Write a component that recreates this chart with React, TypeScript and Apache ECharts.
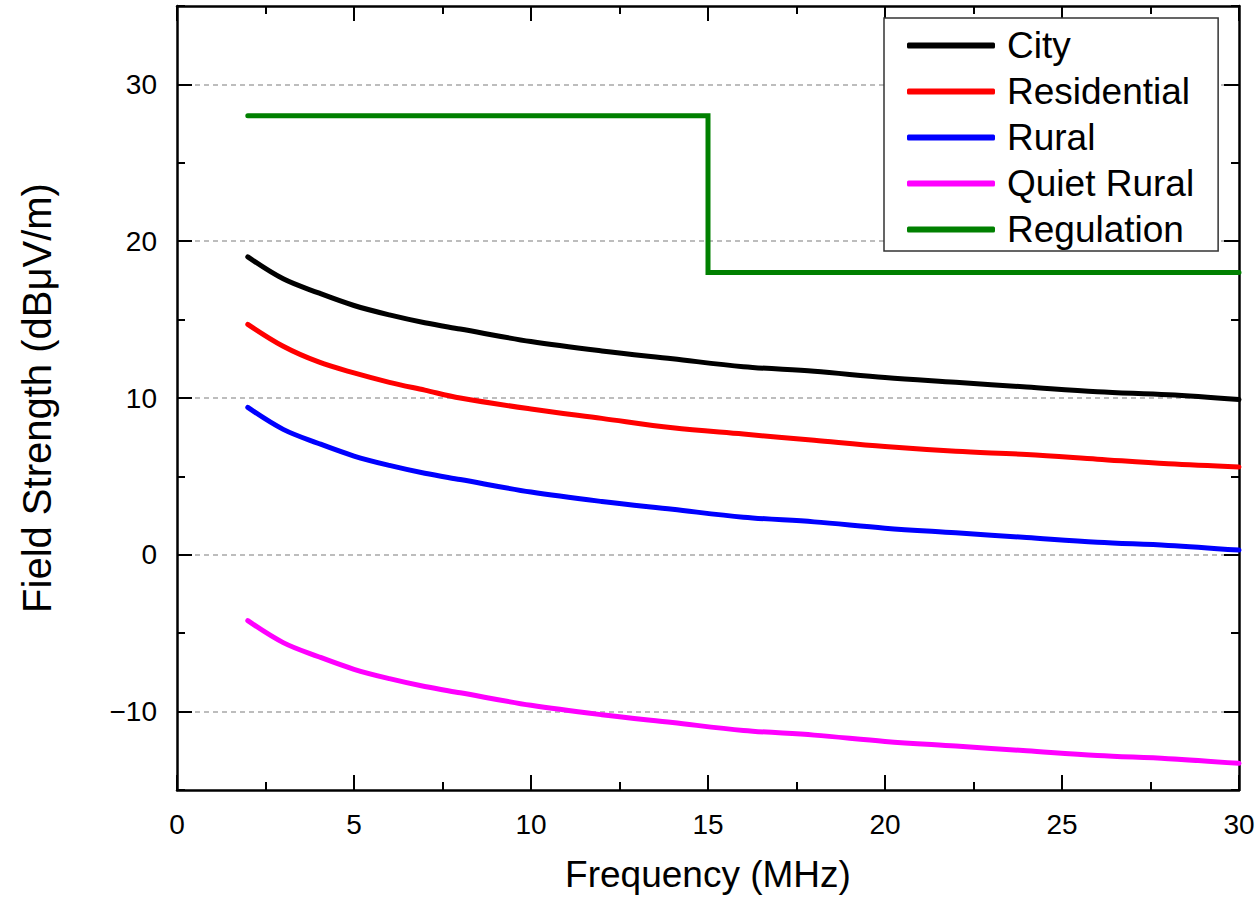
import React, { useEffect, useRef } from "react";
import * as echarts from "echarts";

const freqs = [2, 3, 4, 5, 6, 7, 8, 10, 12, 14, 16, 18, 20, 22, 24, 26, 28, 30];
const city = [19.0, 17.6, 16.7, 15.9, 15.3, 14.8, 14.4, 13.6, 13.0, 12.5, 12.0, 11.7, 11.3, 11.0, 10.7, 10.4, 10.2, 9.9];
const residential = [14.7, 13.3, 12.3, 11.6, 11.0, 10.5, 10.0, 9.3, 8.7, 8.1, 7.7, 7.3, 6.9, 6.6, 6.4, 6.1, 5.8, 5.6];
const rural = [9.4, 8.0, 7.1, 6.3, 5.7, 5.2, 4.8, 4.0, 3.4, 2.9, 2.4, 2.1, 1.7, 1.4, 1.1, 0.8, 0.6, 0.3];
const quietRural = [-4.2, -5.6, -6.5, -7.3, -7.9, -8.4, -8.8, -9.6, -10.2, -10.7, -11.2, -11.5, -11.9, -12.2, -12.5, -12.8, -13.0, -13.3];
const regulationFreq = [2, 15, 15, 30];
const regulationLevel = [28, 28, 18, 18];

const seriesNames = ["City", "Residential", "Rural", "Quiet Rural", "Regulation"];
const seriesColors = ["#000000", "#ff0000", "#0000ff", "#ff00ff", "#008000"];
const majorYTicks = [-10, 0, 10, 20, 30];

const FONT = "'Liberation Sans', Arial, sans-serif";
// index of the hidden helper axes (their range does not cross zero, so the
// visible axes stay on the frame edges)
const HELPER_X = 2;
const HELPER_Y = 4;

export default function App() {
  const ref = useRef<HTMLDivElement>(null);
  useEffect(() => {
    if (!ref.current) return;
    const chart = echarts.init(ref.current, null, { renderer: "svg" });
    const curves = [city, residential, rural, quietRural];
    const lineSeries: any[] = curves.map((vals, i) => ({
      name: seriesNames[i],
      type: "line",
      data: freqs.map((f, j) => [f, vals[j]]),
      smooth: 0.35,
      symbol: "none",
      color: seriesColors[i],
      lineStyle: { width: 5, color: seriesColors[i], cap: "round" },
    }));
    lineSeries.push({
      name: seriesNames[4],
      type: "line",
      data: regulationFreq.map((f, j) => [f, regulationLevel[j]]),
      symbol: "none",
      color: seriesColors[4],
      lineStyle: { width: 5, color: seriesColors[4], cap: "round", join: "miter" },
    });

    const xLine = { show: true, onZeroAxisIndex: HELPER_Y, lineStyle: { color: "#000", width: 2.5 } };
    const yLine = { show: true, onZeroAxisIndex: HELPER_X, lineStyle: { color: "#000", width: 2.5 } };
    const xBase = {
      type: "value",
      min: 0,
      max: 30,
      interval: 5,
      axisLine: xLine,
      axisTick: { show: true, inside: true, length: 15, lineStyle: { color: "#000", width: 2 } },
      minorTick: { show: true, splitNumber: 2, length: 8, lineStyle: { color: "#000", width: 2 } },
      splitLine: { show: false },
    };
    const yMinor = {
      type: "value",
      min: -15,
      max: 35,
      interval: 5,
      axisLine: yLine,
      axisTick: { show: true, inside: true, length: 8, lineStyle: { color: "#000", width: 2 } },
      axisLabel: { show: false },
      splitLine: { show: false },
    };
    const yMajor = {
      type: "value",
      min: -15,
      max: 35,
      interval: 5,
      axisLine: { show: false, onZeroAxisIndex: HELPER_X },
      axisTick: {
        show: true,
        inside: true,
        length: 15,
        customValues: majorYTicks,
        lineStyle: { color: "#000", width: 2 },
      },
      axisLabel: { show: false },
      splitLine: { show: false },
    };

    chart.setOption({
      animation: false,
      backgroundColor: "#fff",
      textStyle: { fontFamily: FONT },
      grid: { left: 177, right: 21, top: 6, bottom: 110, containLabel: false },
      legend: {
        data: seriesNames,
        orient: "vertical",
        left: 884,
        top: 18,
        backgroundColor: "#fff",
        borderColor: "#333",
        borderWidth: 1.5,
        padding: [9, 24, 3, 23],
        itemWidth: 88,
        itemHeight: 6,
        itemGap: 9,
        icon: "roundRect",
        textStyle: { fontSize: 37, color: "#000", fontFamily: FONT, padding: [0, 0, 0, 7] },
        z: 10,
      },
      xAxis: [
        {
          ...xBase,
          position: "bottom",
          name: "Frequency (MHz)",
          nameLocation: "middle",
          nameGap: 66,
          nameTextStyle: { fontSize: 37, color: "#000", fontFamily: FONT },
          axisLabel: { show: true, fontSize: 28, color: "#000", margin: 20, fontFamily: FONT },
        },
        {
          ...xBase,
          position: "top",
          axisLabel: { show: false },
        },
        { type: "value", min: 100, max: 101, show: false },
      ],
      yAxis: [
        {
          ...yMinor,
          position: "left",
          name: "Field Strength (dBμV/m)",
          nameLocation: "middle",
          nameGap: 120,
          nameTextStyle: { fontSize: 40, color: "#000", fontFamily: FONT },
          axisLabel: {
            show: true,
            fontSize: 28,
            color: "#000",
            margin: 20,
            fontFamily: FONT,
            formatter: (v: number) => (v % 10 === 0 ? String(v).replace("-", "\u2212") : ""),
          },
          splitLine: {
            show: true,
            lineStyle: { color: ["transparent", "#a8a8a8"], type: [5, 4], width: 1.5 },
          },
        },
        { ...yMajor, position: "left" },
        { ...yMinor, position: "right" },
        { ...yMajor, position: "right" },
        { type: "value", min: 100, max: 101, show: false },
      ],
      series: lineSeries,
    });
    return () => chart.dispose();
  }, []);
  return (
    <div
      ref={ref}
      style={{ position: "absolute", left: 0, top: 0, width: 1260, height: 900 }}
    />
  );
}
